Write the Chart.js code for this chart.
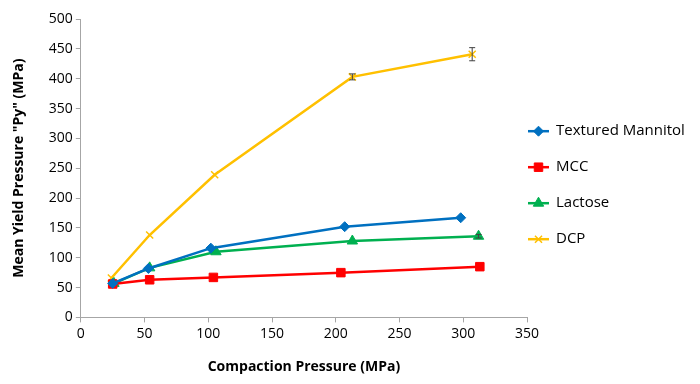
<!DOCTYPE html>
<html>
<head>
<meta charset="utf-8">
<script src="https://cdn.jsdelivr.net/npm/chart.js@4"></script>
<style>
  html, body { margin: 0; padding: 0; background: #fff; }
  #wrap { width: 700px; height: 384px; }
</style>
</head>
<body>
<div id="wrap"><canvas id="myChart" width="700" height="384"></canvas></div>
<script>
const seriesNames = ["Textured Mannitol", "MCC", "Lactose", "DCP"];
const colors = ["#0070C0", "#FF0000", "#00B050", "#FFC000"];
const markers = ["rectRot", "rect", "triangle", "crossRot"];
const markerSizes = [5, 6, 6, 5];

// compaction pressure (x) and mean yield pressure (y) for each series
const mannitolX = [25, 53, 102, 207, 298];
const mannitolY = [57, 82, 116, 152, 167];
const mccX = [25, 54, 104, 204, 313];
const mccY = [56, 63, 67, 75, 85];
const lactoseX = [26, 54, 106, 213, 312];
const lactoseY = [57, 83, 110, 128, 136];
const dcpX = [24, 54, 105, 213, 307];
const dcpY = [66, 138, 239, 403, 441];
const dcpErr = [0, 0, 0, 5, 11];
const lactoseErr = [0, 0, 0, 0, 3];

const xTicks = [0, 50, 100, 150, 200, 250, 300, 350];
const yTicks = [0, 50, 100, 150, 200, 250, 300, 350, 400, 450, 500];

const xs = [mannitolX, mccX, lactoseX, dcpX];
const ys = [mannitolY, mccY, lactoseY, dcpY];
const errs = [null, null, lactoseErr, dcpErr];

const datasets = seriesNames.map((name, i) => ({
  label: name,
  data: xs[i].map((x, j) => ({x: x, y: ys[i][j]})),
  errors: errs[i],
  borderColor: colors[i],
  backgroundColor: colors[i],
  borderWidth: 2.5,
  pointStyle: markers[i],
  pointRadius: markerSizes[i],
  pointBorderWidth: markers[i] === "crossRot" ? 1.5 : 1,
  tension: 0,
  showLine: true
}));

const errorBars = {
  id: "errorBars",
  afterDatasetsDraw(chart) {
    const ctx = chart.ctx;
    const yScale = chart.scales.y;
    ctx.save();
    ctx.strokeStyle = "#404040";
    ctx.lineWidth = 1;
    chart.data.datasets.forEach((ds, i) => {
      if (!ds.errors) return;
      const meta = chart.getDatasetMeta(i);
      meta.data.forEach((pt, j) => {
        const e = ds.errors[j];
        if (!e) return;
        const v = ds.data[j].y;
        const top = yScale.getPixelForValue(v + e);
        const bot = yScale.getPixelForValue(v - e);
        ctx.beginPath();
        ctx.moveTo(pt.x, top); ctx.lineTo(pt.x, bot);
        ctx.moveTo(pt.x - 3, top); ctx.lineTo(pt.x + 3, top);
        ctx.moveTo(pt.x - 3, bot); ctx.lineTo(pt.x + 3, bot);
        ctx.stroke();
      });
    });
    ctx.restore();
  }
};

const sideLegend = {
  id: "sideLegend",
  afterDraw(chart) {
    const ctx = chart.ctx;
    const area = chart.chartArea;
    const x0 = area.right + 1;
    const gap = 36;
    const n = chart.data.datasets.length;
    const mid = (area.top + area.bottom) / 2 + 17;
    const y0 = mid - gap * (n - 1) / 2;
    ctx.save();
    ctx.font = "15px 'Open Sans'";
    ctx.textBaseline = "middle";
    chart.data.datasets.forEach((ds, i) => {
      const y = y0 + i * gap;
      ctx.strokeStyle = ds.borderColor;
      ctx.lineWidth = 2.5;
      ctx.beginPath();
      ctx.moveTo(x0, y); ctx.lineTo(x0 + 21, y);
      ctx.stroke();
      ctx.fillStyle = ds.backgroundColor;
      ctx.lineWidth = ds.pointBorderWidth;
      Chart.helpers.drawPoint(ctx, {pointStyle: ds.pointStyle, radius: ds.pointRadius, borderWidth: ds.pointBorderWidth, rotation: 0}, x0 + 10.5, y);
      ctx.fillStyle = "#000";
      ctx.fillText(ds.label, x0 + 28, y);
    });
    ctx.restore();
  }
};

const axisFont = {family: "'Open Sans'", size: 14};
const titleFont = {family: "'Open Sans'", size: 14, weight: "bold"};

new Chart(document.getElementById("myChart"), {
  type: "scatter",
  data: {datasets: datasets},
  plugins: [errorBars, sideLegend],
  options: {
    responsive: false,
    animation: false,
    layout: {padding: {left: 11, right: 173, top: 19, bottom: 9}},
    plugins: {legend: {display: false}, tooltip: {enabled: false}},
    scales: {
      x: {
        type: "linear",
        min: 0, max: 350,
        afterBuildTicks: axis => { axis.ticks = xTicks.map(v => ({value: v})); },
        grid: {drawOnChartArea: false, color: "#A6A6A6", tickLength: 5},
        border: {color: "#A6A6A6", width: 1},
        ticks: {color: "#000", font: axisFont, padding: 3, maxRotation: 0},
        title: {display: true, text: "Compaction Pressure (MPa)", color: "#000", font: titleFont, padding: {top: 13, bottom: 0}}
      },
      y: {
        type: "linear",
        min: 0, max: 500,
        afterBuildTicks: axis => { axis.ticks = yTicks.map(v => ({value: v})); },
        grid: {drawOnChartArea: false, color: "#A6A6A6", tickLength: 5},
        border: {color: "#A6A6A6", width: 1},
        ticks: {color: "#000", font: axisFont, padding: 3},
        title: {display: true, text: "Mean Yield Pressure \"Py\" (MPa)", color: "#000", font: titleFont, padding: {top: 0, bottom: 18}}
      }
    }
  }
});
</script>
</body>
</html>
